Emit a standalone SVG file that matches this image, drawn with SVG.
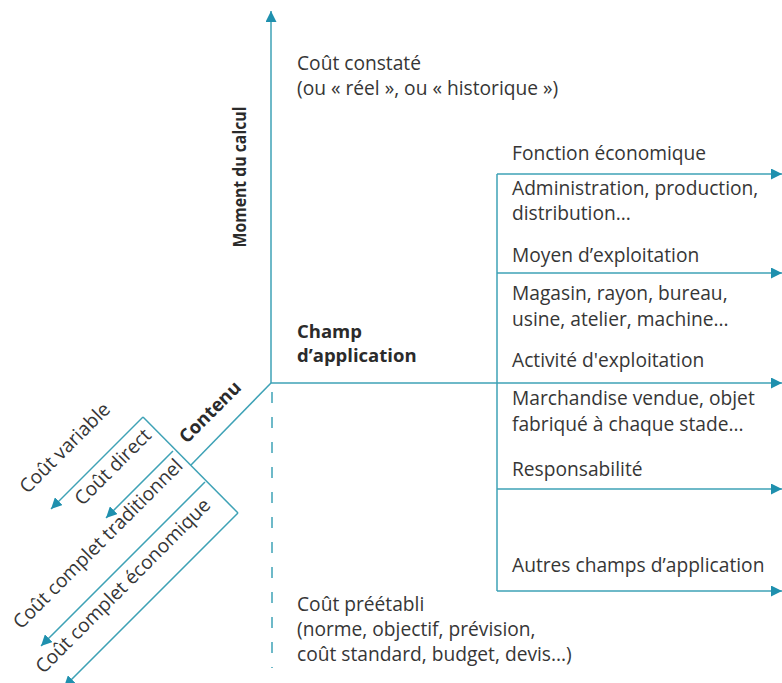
<svg xmlns="http://www.w3.org/2000/svg" width="782" height="683" viewBox="0 0 782 683">
  <style>
    .ln { stroke: #3ea2b6; stroke-width: 1.5; fill: none; }
    .dash { stroke: #3ea2b6; stroke-width: 1.5; fill: none; stroke-dasharray: 11 14; }
    .t { font-family: "Open Sans", "Noto Sans", sans-serif; font-size: 19.2px; fill: #363636; }
    .b { font-family: "Open Sans", "Noto Sans", sans-serif; font-size: 18.5px; font-weight: bold; fill: #2b2b2b; }
    .r { font-family: "Open Sans", "Noto Sans", sans-serif; font-size: 19.3px; fill: #363636; text-anchor: middle; }
  </style>
  <defs>
    <marker id="arrow" viewBox="0 0 10 10" refX="10" refY="5" markerWidth="11" markerHeight="11" markerUnits="userSpaceOnUse" orient="auto">
      <path d="M0,0 L10,5 L0,10 z" fill="#1f90ae"/>
    </marker>
  </defs>

  <!-- axes and branches -->
  <g id="connectors">
    <!-- vertical axis: moment du calcul -->
    <line class="ln" x1="271" y1="383" x2="271" y2="11" marker-end="url(#arrow)"/>
    <!-- horizontal axis: champ d'application -->
    <line class="ln" x1="271" y1="383" x2="782" y2="383" marker-end="url(#arrow)"/>
    <!-- dashed downward axis -->
    <line class="dash" x1="272" y1="392" x2="272" y2="668"/>
    <!-- right bracket -->
    <line class="ln" x1="497" y1="174" x2="497" y2="591"/>
    <line class="ln" x1="497" y1="174" x2="782" y2="174" marker-end="url(#arrow)"/>
    <line class="ln" x1="497" y1="273" x2="782" y2="273" marker-end="url(#arrow)"/>
    <line class="ln" x1="497" y1="489" x2="782" y2="489" marker-end="url(#arrow)"/>
    <line class="ln" x1="497" y1="591" x2="782" y2="591" marker-end="url(#arrow)"/>
    <!-- diagonal axis: contenu -->
    <line class="ln" x1="271" y1="383" x2="191" y2="465"/>
    <line class="ln" x1="143" y1="417" x2="238" y2="513"/>
    <line class="ln" x1="143" y1="417" x2="51" y2="509" marker-end="url(#arrow)"/>
    <line class="ln" x1="173" y1="451" x2="106" y2="518" marker-end="url(#arrow)"/>
    <line class="ln" x1="205" y1="482" x2="41" y2="646" marker-end="url(#arrow)"/>
    <line class="ln" x1="238" y1="513" x2="64" y2="687" marker-end="url(#arrow)"/>
  </g>

  <g id="axis-moment">
    <text class="b" style="font-size:17.5px" text-anchor="middle" textLength="141" lengthAdjust="spacingAndGlyphs" transform="translate(245.5,177) rotate(-90)">Moment du calcul</text>
  </g>

  <g id="cout-constate">
    <text class="t" x="297" y="70">Coût constaté</text>
    <text class="t" x="297" y="95">(ou « réel », ou « historique »)</text>
  </g>

  <g id="axis-champ">
    <text class="b" x="297" y="338">Champ</text>
    <text class="b" x="297" y="362">d’application</text>
  </g>

  <g id="fonction">
    <text class="t" x="512" y="160">Fonction économique</text>
    <text class="t" x="512" y="195">Administration, production,</text>
    <text class="t" x="512" y="220">distribution...</text>
  </g>

  <g id="moyen">
    <text class="t" x="512" y="262">Moyen d’exploitation</text>
    <text class="t" x="512" y="300">Magasin, rayon, bureau,</text>
    <text class="t" x="512" y="326">usine, atelier, machine...</text>
  </g>

  <g id="activite">
    <text class="t" x="512" y="367">Activité d'exploitation</text>
    <text class="t" x="512" y="405">Marchandise vendue, objet</text>
    <text class="t" x="512" y="431">fabriqué à chaque stade...</text>
  </g>

  <g id="responsabilite">
    <text class="t" x="512" y="476">Responsabilité</text>
  </g>

  <g id="autres">
    <text class="t" x="512" y="572">Autres champs d’application</text>
  </g>

  <g id="cout-preetabli">
    <text class="t" x="297" y="611">Coût préétabli</text>
    <text class="t" x="297" y="636">(norme, objectif, prévision,</text>
    <text class="t" x="297" y="661">coût standard, budget, devis...)</text>
  </g>

  <g id="axis-contenu">
    <text class="b" text-anchor="middle" transform="translate(214.5,416.5) rotate(-45)">Contenu</text>
  </g>

  <g id="cout-variable">
    <text class="r" transform="translate(69.5,452.5) rotate(-45)">Coût variable</text>
  </g>
  <g id="cout-direct">
    <text class="r" transform="translate(117.5,471.5) rotate(-45)">Coût direct</text>
  </g>
  <g id="cout-complet-traditionnel">
    <text class="r" transform="translate(102.5,548.5) rotate(-45)">Coût complet traditionnel</text>
  </g>
  <g id="cout-complet-economique">
    <text class="r" transform="translate(127.5,590.5) rotate(-45)">Coût complet économique</text>
  </g>
</svg>
